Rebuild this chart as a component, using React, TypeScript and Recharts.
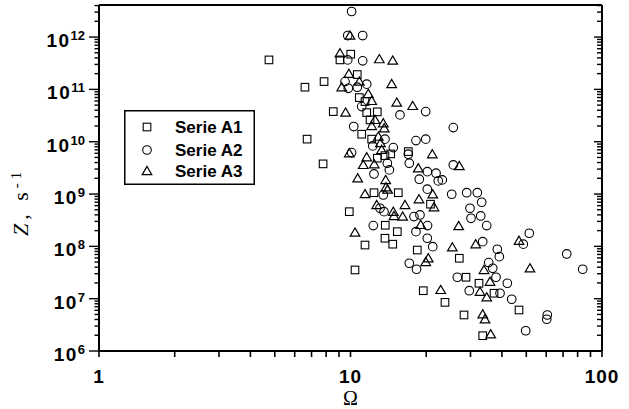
import { ScatterChart, Scatter, XAxis, YAxis, Legend } from 'recharts';

// Ω vs Z (s^-1)
const serieA1: [number, number][] = [
  [4.74, 3.66e11], [6.59, 1.1e11], [6.72, 1.12e10], [7.85, 1.41e11], [7.78, 3.77e9],
  [8.54, 3.76e10], [9.08, 3.66e11], [10.02, 4.71e11], [10.64, 1.92e11], [10.84, 6.97e10],
  [11.42, 5.85e10], [11.6, 3.6e10], [12.78, 3.72e10], [11.96, 2.61e10], [11.08, 1.39e10],
  [12.14, 1.12e10], [14.45, 5.85e9], [12.78, 4.84e9], [16.98, 6.47e9], [13.71, 5.42e9],
  [12.4, 1.06e9], [15.49, 1.06e9], [20.8, 6.4e8], [9.89, 4.6e8], [13.75, 2.53e8],
  [15.35, 1.91e8], [13.71, 1.43e8], [14.72, 1.1e8], [11.42, 1.06e8], [18.43, 8.5e7],
  [27.08, 5.92e7], [10.42, 3.54e7], [28.79, 2.57e7], [32.43, 1.97e7], [37.21, 1.27e7],
  [19.47, 1.42e7], [23.75, 8.5e6], [46.77, 6.08e6], [28.27, 4.88e6], [33.55, 1.96e6],
];

const serieA2: [number, number][] = [
  [10.1, 3.08e12], [9.75, 1.07e12], [11.18, 1.07e12], [9.75, 3.66e11], [11.18, 3.51e11],
  [9.51, 1.41e11], [11.6, 1.26e11], [9.8, 1.05e11], [10.64, 1.1e11], [11.08, 4.69e10],
  [15.73, 3.25e10], [19.91, 3.76e10], [10.3, 1.95e10], [25.63, 1.86e10], [13.71, 1.12e10],
  [18.21, 1.05e10], [19.91, 1.12e10], [12.26, 8.3e9], [14.8, 7.71e9], [10.1, 6.19e9],
  [16.98, 5.77e9], [14.01, 3.88e9], [17.13, 3.88e9], [14.27, 2.89e9], [20.2, 2.68e9],
  [25.63, 3.6e9], [12.4, 2.42e9], [21.88, 2.5e9], [18.77, 1.92e9], [22.34, 1.78e9],
  [23.17, 1.86e9], [13.5, 9.6e8], [20.2, 1.24e9], [25.26, 9.9e8], [28.97, 1.06e9],
  [31.93, 1.06e9], [33.24, 6.97e8], [13.1, 5.35e8], [13.59, 4.6e8], [17.88, 3.7e8],
  [18.89, 3.98e8], [29.86, 5.35e8], [30.14, 3.44e8], [32.94, 3.81e8], [12.32, 2.49e8],
  [20.25, 2.49e8], [34.8, 2.49e8], [18.21, 1.91e8], [51.4, 1.78e8], [20.2, 1.43e8],
  [21.23, 9.87e7], [33.55, 1.23e8], [48.64, 1.1e8], [38.35, 8.8e7], [39.06, 6.35e7],
  [17.13, 4.75e7], [18.3, 3.65e7], [35.44, 4.9e7], [36.76, 3.81e7], [72.4, 7.16e7],
  [83.8, 3.65e7], [26.59, 2.57e7], [37.89, 2.57e7], [42.03, 1.97e7], [29.67, 1.42e7],
  [39.31, 1.27e7], [43.75, 9.75e6], [60.6, 4.88e6], [60.3, 4.04e6], [49.73, 2.44e6],
];

const serieA3: [number, number][] = [
  [9.95, 1.07e12], [9.08, 4.92e11], [13.02, 3.78e11], [14.72, 3.56e11], [9.85, 1.98e11],
  [10.84, 1.41e11], [9.23, 1.1e11], [14.58, 1.27e11], [11.77, 8.2e10], [12.14, 6.03e10],
  [15.27, 5.6e10], [17.67, 4.83e10], [9.56, 3.6e10], [12.51, 2.61e10], [12.14, 2.0e10],
  [13.5, 2.26e10], [13.62, 1.81e10], [12.9, 1.25e10], [13.15, 9.4e9], [9.89, 6.03e9],
  [13.3, 6.97e9], [11.6, 5.06e9], [11.24, 3.6e9], [21.15, 5.77e9], [12.43, 3.72e9],
  [18.6, 3.11e9], [27.08, 3.44e9], [10.68, 2.0e9], [13.8, 1.86e9], [13.84, 1.35e9],
  [14.05, 1.22e9], [11.42, 1.0e9], [21.23, 9.9e8], [18.72, 7.96e8], [12.71, 6.19e8],
  [14.8, 4.6e8], [14.89, 3.81e8], [16.12, 3.7e8], [16.47, 6.19e8], [21.48, 5.6e8],
  [10.42, 1.83e8], [19.01, 2.57e8], [26.93, 2.45e8], [25.4, 9.6e7], [31.47, 1.1e8],
  [46.77, 1.28e8], [20.38, 5.92e7], [19.91, 5.03e7], [33.95, 3.54e7], [51.72, 3.81e7],
  [35.87, 2.11e7], [22.84, 1.47e7], [32.73, 1.36e7], [34.8, 1.06e7], [33.55, 5.03e6],
  [34.26, 4.04e6], [36.1, 2.09e6],
];

const xMajor = [1, 10, 100];
const yMajor = [1e6, 1e7, 1e8, 1e9, 1e10, 1e11, 1e12];
const minorSteps = [2, 3, 4, 5, 6, 7, 8, 9];
const yTopMinor = [2e12, 3e12, 4e12];

const xTicks = [
  ...xMajor.slice(0, 2).flatMap((d) => [d, ...minorSteps.map((m) => m * d)]),
  100,
];
const yTicks = [
  ...yMajor.slice(0, 6).flatMap((d) => [d, ...minorSteps.map((m) => m * d)]),
  1e12,
  ...yTopMinor,
];

const toPoints = (rows: [number, number][]) => rows.map(([o, z]) => ({ o, z }));

const SANS = '"Liberation Sans", Arial, sans-serif';
const SERIF = '"Liberation Serif", "Times New Roman", serif';

const Square = ({ cx, cy }: any) => (
  <rect x={cx - 3.8} y={cy - 3.8} width={7.6} height={7.6} fill="none" stroke="#000" strokeWidth={1.1} />
);
const Circle = ({ cx, cy }: any) => (
  <circle cx={cx} cy={cy} r={4.3} fill="none" stroke="#000" strokeWidth={1.1} />
);
const Triangle = ({ cx, cy }: any) => (
  <polygon
    points={`${cx},${cy - 4.6} ${cx - 4.8},${cy + 3.6} ${cx + 4.8},${cy + 3.6}`}
    fill="none"
    stroke="#000"
    strokeWidth={1.2}
  />
);

const series = [
  { name: 'Serie A1', data: toPoints(serieA1), Shape: Square },
  { name: 'Serie A2', data: toPoints(serieA2), Shape: Circle },
  { name: 'Serie A3', data: toPoints(serieA3), Shape: Triangle },
];

function BottomTick({ x, y, payload }: any) {
  const major = xMajor.includes(payload.value);
  return (
    <g>
      <line x1={x} y1={y} x2={x} y2={y + 6} stroke="#000" strokeWidth={1.6} />
      {major && (
        <text x={x} y={y + 32} textAnchor="middle" fontSize={19} fontWeight="bold" fontFamily={SANS} fill="#000" letterSpacing={1}>
          {payload.value}
        </text>
      )}
    </g>
  );
}

function TopTick({ x, y }: any) {
  return <line x1={x} y1={y} x2={x} y2={y + 6} stroke="#000" strokeWidth={1.6} />;
}

function LeftTick({ x, y, payload }: any) {
  const major = yMajor.includes(payload.value);
  const exp = Math.round(Math.log10(payload.value));
  return (
    <g>
      <line x1={x} y1={y} x2={x - (major ? 10 : 4.5)} y2={y} stroke="#000" strokeWidth={1.4} />
      {major && (
        <text x={x - 14} y={y + 10} textAnchor="end" fontSize={19} fontWeight="bold" fontFamily={SANS} fill="#000" letterSpacing={1.5}>
          10
          <tspan dy={-7} fontSize={13} letterSpacing={0}>{exp}</tspan>
        </text>
      )}
    </g>
  );
}

function RightTick({ x, y, payload }: any) {
  const major = yMajor.includes(payload.value);
  return <line x1={x} y1={y} x2={x - (major ? 8 : 5)} y2={y} stroke="#000" strokeWidth={1.4} />;
}

function YTitle() {
  return (
    <text transform="rotate(-90)" x={-236} y={28} fontFamily={SERIF} fontSize={22} fill="#000" letterSpacing={4}>
      <tspan fontStyle="italic">Z</tspan>, s
      <tspan dy={-7} fontSize={15}>-1</tspan>
    </text>
  );
}

function LegendBox() {
  const rows = [17, 40, 61];
  return (
    <svg width={131} height={75}>
      <rect x={0.75} y={0.75} width={129.5} height={73.5} fill="#fff" stroke="#000" strokeWidth={1.5} />
      {series.map((s, i) => (
        <g key={s.name}>
          <s.Shape cx={23} cy={rows[i]} />
          <text x={51} y={rows[i] + 6} fontSize={17} fontWeight="bold" fontFamily={SANS} fill="#000">
            {s.name}
          </text>
        </g>
      ))}
    </svg>
  );
}

const axisStroke = { stroke: '#000', strokeWidth: 2 };

export default function App() {
  return (
    <div style={{ position: 'absolute', left: 0, top: 0, width: 629, height: 409, background: '#fff' }}>
      <ScatterChart width={629} height={409} margin={{ top: 0, right: 0, bottom: 0, left: 0 }}>
        <XAxis
          xAxisId="b"
          dataKey="o"
          type="number"
          scale="log"
          domain={[1, 100]}
          allowDataOverflow
          ticks={xTicks}
          interval={0}
          tick={<BottomTick />}
          tickLine={false}
          tickSize={0}
          tickMargin={0}
          height={58}
          axisLine={axisStroke}
          label={{ value: 'Ω', position: 'insideBottom', offset: 4, fontFamily: SERIF, fontSize: 20, fill: '#000' }}
        />
        <XAxis
          xAxisId="t"
          orientation="top"
          type="number"
          scale="log"
          domain={[1, 100]}
          allowDataOverflow
          ticks={xTicks}
          interval={0}
          tick={<TopTick />}
          tickLine={false}
          tickSize={0}
          tickMargin={0}
          height={5}
          axisLine={axisStroke}
        />
        <YAxis
          yAxisId="l"
          dataKey="z"
          type="number"
          scale="log"
          domain={[1e6, 4.1e12]}
          allowDataOverflow
          ticks={yTicks}
          interval={0}
          tick={<LeftTick />}
          tickLine={false}
          tickSize={0}
          tickMargin={0}
          width={99}
          axisLine={axisStroke}
          label={<YTitle />}
        />
        <YAxis
          yAxisId="r"
          orientation="right"
          type="number"
          scale="log"
          domain={[1e6, 4.1e12]}
          allowDataOverflow
          ticks={yTicks}
          interval={0}
          tick={<RightTick />}
          tickLine={false}
          tickSize={0}
          tickMargin={0}
          width={27}
          axisLine={axisStroke}
        />
        <Legend
          layout="vertical"
          align="center"
          verticalAlign="middle"
          content={() => <LegendBox />}
          wrapperStyle={{ left: 124, top: 110, width: 131, height: 75 }}
        />
        {series.map((s) => (
          <Scatter
            key={s.name}
            name={s.name}
            data={s.data}
            xAxisId="b"
            yAxisId="l"
            shape={s.Shape}
            isAnimationActive={false}
          />
        ))}
      </ScatterChart>
    </div>
  );
}
